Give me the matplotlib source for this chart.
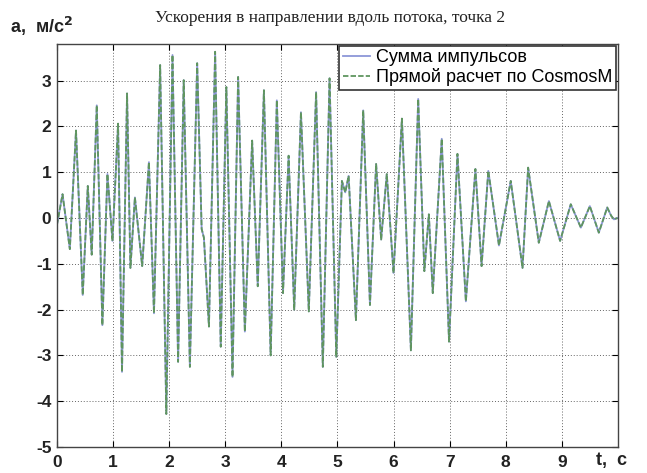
import matplotlib
matplotlib.use("Agg")
import matplotlib.pyplot as plt

# extrema (time, s ; acceleration, m/s^2)
t = [0.0, 0.10, 0.23, 0.34, 0.46, 0.55, 0.62, 0.71, 0.81, 0.90, 0.99, 1.09, 1.16,
     1.25, 1.31, 1.39, 1.52, 1.64, 1.73, 1.84, 1.95, 2.06, 2.16, 2.26, 2.37, 2.50,
     2.58, 2.62, 2.71, 2.82, 2.92, 3.02, 3.13, 3.23, 3.35, 3.48, 3.58, 3.69, 3.81,
     3.92, 4.03, 4.13, 4.23, 4.35, 4.49, 4.62, 4.74, 4.86, 4.98, 5.08, 5.14, 5.20,
     5.33, 5.46, 5.58, 5.69, 5.78, 5.88, 6.00, 6.15, 6.31, 6.44, 6.55, 6.63, 6.70,
     6.86, 6.99, 7.14, 7.29, 7.46, 7.57, 7.69, 7.88, 8.09, 8.30, 8.40, 8.59, 8.77,
     8.97, 9.16, 9.34, 9.50, 9.66, 9.81, 9.88, 9.93, 9.99]
a = [-0.15, 0.52, -0.68, 1.91, -1.68, 0.70, -0.80, 2.46, -2.34, 0.96, -0.50, 2.06, -3.36,
     2.72, -1.09, 0.45, -1.05, 1.22, -2.08, 3.34, -4.28, 3.56, -3.14, 3.01, -3.25, 3.38,
     -0.24, -0.43, -2.37, 3.63, -2.81, 2.86, -3.47, 3.08, -2.48, 1.69, -1.49, 2.79, -3.00,
     2.57, -1.64, 1.36, -2.00, 2.31, -2.04, 2.75, -3.25, 3.05, -3.03, 0.81, 0.56, 0.92,
     -2.23, 2.35, -1.90, 1.18, -0.47, 0.96, -1.20, 2.17, -2.89, 2.60, -1.16, 0.08, -1.64,
     1.73, -2.70, 1.40, -1.82, 1.07, -1.05, 1.03, -0.60, 0.81, -1.09, 1.10, -0.54, 0.37,
     -0.50, 0.30, -0.21, 0.26, -0.32, 0.23, 0.05, -0.03, 0.0]

x_ticks = [0, 1, 2, 3, 4, 5, 6, 7, 8, 9]
y_ticks = [-5, -4, -3, -2, -1, 0, 1, 2, 3]
series_names = ["Сумма импульсов", "Прямой расчет по CosmosM"]
title = "Ускорения в направлении вдоль потока, точка 2"

plt.rcParams['font.family'] = ['Liberation Sans', 'DejaVu Sans']
plt.rcParams['axes.unicode_minus'] = False

fig = plt.figure(figsize=(6.47, 4.73), dpi=100)
ax = fig.add_axes([0.088, 0.055, 0.867, 0.852])

ax.plot(t, a, color='#8c96d8', lw=1.3, label=series_names[0])
ax.plot(t, a, color='#5f955f', lw=1.3, ls=(0, (3, 1.2)), label=series_names[1])

ax.set_xlim(0, 10)
ax.set_ylim(-5, 3.8)
ax.set_xticks(x_ticks)
ax.set_yticks(y_ticks)
ax.tick_params(direction='in', top=True, right=True, length=4, labelsize=12.5, pad=4)
ax.tick_params(axis='x', pad=6)
for lab in ax.get_xticklabels() + ax.get_yticklabels():
    lab.set_fontweight('bold')
    lab.set_color('#222222')
ax.grid(True, ls=(0, (1, 2)), color='#666666', lw=0.7)
for sp in ax.spines.values():
    sp.set_color('#444444')
    sp.set_linewidth(1.0)

leg = ax.legend(loc='upper right', fontsize=13, handlelength=1.5, handletextpad=0.35,
                borderpad=0.2, labelspacing=0.1, fancybox=False, framealpha=1,
                borderaxespad=0.1)
leg.get_frame().set_edgecolor('#333333')
leg.get_frame().set_linewidth(1.2)

fig.text(0.51, 0.962, title, family='Liberation Serif', fontsize=12.5,
         ha='center', va='center', color='#222222')
fig.text(0.015, 0.945, "a,  м/с$^\\mathbf{2}$", fontsize=13, fontweight='bold',
         ha='left', va='center', color='#222222')
fig.text(0.945, 0.026, "t,  c", fontsize=13, fontweight='bold',
         ha='center', va='center', color='#222222')

fig.savefig("out.png", dpi=100)
